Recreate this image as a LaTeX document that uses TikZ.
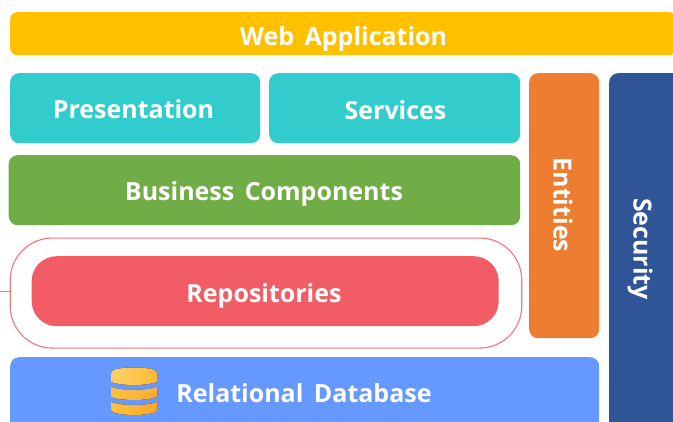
\documentclass[tikz,border=0pt]{standalone}
\usepackage{fontspec}
\setmainfont{Open Sans}
\usetikzlibrary{calc}
\definecolor{cYellow}{HTML}{FFC000}
\definecolor{cTeal}{HTML}{33CCCC}
\definecolor{cGreen}{HTML}{70AD47}
\definecolor{cRed}{HTML}{F25C64}
\definecolor{cOrange}{HTML}{ED7D31}
\definecolor{cNavy}{HTML}{2F5597}
\definecolor{cBlue}{HTML}{6699FF}
\definecolor{cGoldA}{HTML}{FFD266}
\definecolor{cGoldB}{HTML}{F9A82E}
\definecolor{cGoldC}{HTML}{FFC23A}
\tikzset{
  box/.style={draw=none,fill=#1,rounded corners=9pt,inner sep=0pt},
  lbl/.style={inner sep=0pt,text=white,font=\fontsize{25}{30}\selectfont\bfseries},
}
\newcommand{\wsp}{\hspace{0.42em}}
\begin{document}
\begin{tikzpicture}[x=1pt,y=-1pt]
\useasboundingbox (0,0) rectangle (673,421);
\clip (0,0) rectangle (673,421);
\fill[white] (0,0) rectangle (673,421);
\node[fill=cYellow,rounded corners=7pt,minimum width=666pt,minimum height=43pt,inner sep=0pt,anchor=north west] (web) at (10,12) {};
\node[lbl] (webt) at (343.5,39) {Web\wsp Application};
\node[box=cTeal,minimum width=250pt,minimum height=70pt,anchor=north west] (pres) at (10,73) {};
\node[lbl] (prest) at (133.5,109) {Presentation};
\node[box=cTeal,minimum width=251pt,minimum height=70pt,anchor=north west] (serv) at (269,73) {};
\node[lbl] (servt) at (395.5,110) {Services};
\node[box=cGreen,minimum width=511.5pt,minimum height=70pt,anchor=north west] (biz) at (8.5,155) {};
\node[lbl] (bizt) at (264,194) {Business\wsp Components};
\node[draw=cRed!85,line width=1.1pt,fill=white,rounded corners=42pt,minimum width=511.5pt,minimum height=110pt,inner sep=0pt,anchor=north west] (outer) at (9.7,237.5) {};
\node[fill=cRed,rounded corners=25pt,minimum width=467pt,minimum height=70pt,inner sep=0pt,anchor=north west] (repo) at (31.5,256) {};
\node[lbl] (repot) at (264,296) {Repositories};
\coordinate (stub) at (0,291.5);
\draw[cRed!85,line width=1.1pt] (stub) -- (stub -| outer.west);
\node[box=cOrange,minimum width=70pt,minimum height=265pt,anchor=north west] (ent) at (529,73) {};
\node[lbl,rotate=-90] (entt) at (563,205) {Entities};
\node[box=cNavy,minimum width=75pt,minimum height=360pt,anchor=north west] (sec) at (609,73) {};
\node[lbl,rotate=-90] (sect) at (640,249) {Security};
\node[box=cBlue,minimum width=589pt,minimum height=90pt,anchor=north west] (db) at (10,357) {};
\node[lbl] (dbt) at (304,393) {Relational\wsp Database};
% database icon
\fill[left color=cGoldC,right color=cGoldB] (111,402) .. controls (122,406) and (146,406) .. (157,402) -- (157,410) .. controls (157,413) and (146,415) .. (134,415) .. controls (122,415) and (111,413) .. (111,410) -- cycle;
\fill[left color=cGoldC,right color=cGoldB] (111,387) .. controls (122,391) and (146,391) .. (157,387) -- (157,397) .. controls (146,401) and (122,401) .. (111,397) -- cycle;
\fill[cGoldB!80!white,opacity=.6] (111,387) .. controls (122,391) and (146,391) .. (157,387) -- (157,390) .. controls (146,394) and (122,394) .. (111,390) -- cycle;
\fill[left color=cGoldA,right color=cGoldC!70!cGoldB] (111,373) .. controls (111,369) and (122,367.5) .. (134,367.5) .. controls (146,367.5) and (157,369) .. (157,373) -- (157,382) .. controls (146,386) and (122,386) .. (111,382) -- cycle;
\end{tikzpicture}
\end{document}
